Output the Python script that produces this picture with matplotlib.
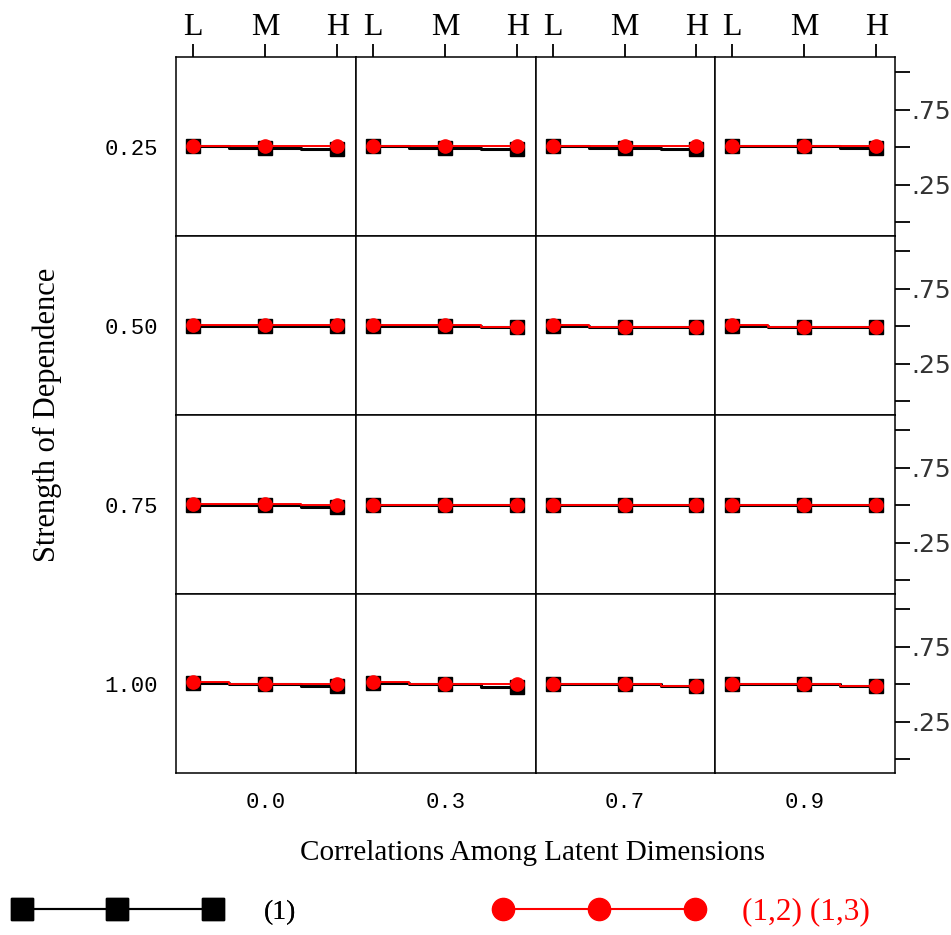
import numpy as np
import matplotlib
matplotlib.use('Agg')
import matplotlib.pyplot as plt
from matplotlib.lines import Line2D

# ----------------------------------------------------------------------------
# data
# ----------------------------------------------------------------------------
levels = ['L', 'M', 'H']
corr_labels = ['0.0', '0.3', '0.7', '0.9']
dep_labels = ['0.25', '0.50', '0.75', '1.00']
right_tick_labels = ['', '.25', '', '.75', '']
right_ticks = [0.0, 0.25, 0.5, 0.75, 1.0]

# model (1): one list per strength-of-dependence row, one [L, M, H] per correlation
m1_dep025 = [[0.505, 0.493, 0.488], [0.505, 0.493, 0.488],
             [0.505, 0.493, 0.488], [0.505, 0.505, 0.493]]
m1_dep050 = [[0.498, 0.498, 0.498], [0.502, 0.502, 0.495],
             [0.500, 0.495, 0.495], [0.500, 0.495, 0.495]]
m1_dep075 = [[0.500, 0.500, 0.485], [0.500, 0.500, 0.500],
             [0.500, 0.500, 0.500], [0.500, 0.500, 0.500]]
m1_dep100 = [[0.505, 0.500, 0.490], [0.505, 0.500, 0.482],
             [0.500, 0.500, 0.490], [0.500, 0.500, 0.490]]

# model (1,2) (1,3)
m2_dep025 = [[0.505, 0.505, 0.505], [0.505, 0.505, 0.505],
             [0.505, 0.505, 0.505], [0.505, 0.505, 0.505]]
m2_dep050 = [[0.505, 0.505, 0.505], [0.505, 0.505, 0.493],
             [0.505, 0.493, 0.493], [0.505, 0.493, 0.493]]
m2_dep075 = [[0.510, 0.510, 0.497], [0.500, 0.500, 0.500],
             [0.500, 0.500, 0.500], [0.500, 0.500, 0.500]]
m2_dep100 = [[0.512, 0.500, 0.500], [0.512, 0.500, 0.500],
             [0.500, 0.500, 0.490], [0.500, 0.500, 0.490]]

model1 = [m1_dep025, m1_dep050, m1_dep075, m1_dep100]
model2 = [m2_dep025, m2_dep050, m2_dep075, m2_dep100]

# ----------------------------------------------------------------------------
# styling
# ----------------------------------------------------------------------------
W, H = 951, 935
serif = 'Liberation Serif'
mono = 'Liberation Mono'
sans = 'DejaVu Sans'
black_col = '#000000'
red_col = '#ff0000'

fig = plt.figure(figsize=(W / 100, H / 100), dpi=100)

xs = [176, 356, 536, 715, 895]
ys = [57, 236, 415, 594, 773]

x = np.arange(len(levels))

for i in range(4):
    for j in range(4):
        ax = fig.add_axes([xs[j] / W, 1 - ys[i + 1] / H,
                           (xs[j + 1] - xs[j]) / W, (ys[i + 1] - ys[i]) / H])
        ax.plot(x, model1[i][j], color=black_col, lw=2.2, drawstyle='steps-mid',
                marker='s', ms=10.5, mec=black_col, mfc=black_col, zorder=2)
        ax.plot(x, model2[i][j], color=red_col, lw=1.4, drawstyle='steps-mid',
                marker='o', ms=9.5, mec=red_col, mfc=red_col, zorder=3)
        ax.set_xlim(-0.24, 2.26)
        ax.set_ylim(-0.093, 1.1)
        for sp in ax.spines.values():
            sp.set_linewidth(1.1)
        ax.set_xticks([])
        ax.set_yticks([])

        if i == 0:
            ax.xaxis.tick_top()
            ax.set_xticks(x)
            ax.set_xticklabels(levels, fontfamily=serif, fontsize=23)
            ax.tick_params(axis='x', which='major', top=True, bottom=False,
                           direction='out', length=9.5, width=1.3, pad=1)
        if i == 3:
            ax.set_xticks([1])
            ax.set_xticklabels([corr_labels[j]], fontfamily=mono, fontsize=16)
            ax.tick_params(axis='x', bottom=True, length=0, pad=14)
        if j == 0:
            ax.set_yticks([0.5])
            ax.set_yticklabels([dep_labels[i]], fontfamily=mono, fontsize=16)
            ax.tick_params(axis='y', left=True, length=0, pad=13)
        if j == 3:
            ax.yaxis.tick_right()
            ax.set_yticks(right_ticks)
            ax.set_yticklabels(right_tick_labels, fontfamily=sans, fontsize=18,
                               color='#333333')
            ax.tick_params(axis='y', right=True, left=False, direction='out',
                           length=11, width=1.3, pad=0.5)

fig.text(533 / W, 1 - 853 / H, 'Correlations Among Latent Dimensions',
         fontfamily=serif, fontsize=21, ha='center', va='center')
fig.text(47 / W, 1 - 415 / H, 'Strength of Dependence', fontfamily=serif,
         fontsize=22, rotation=90, ha='center', va='center')

# legend
h1 = Line2D([], [], color=black_col, lw=1.5, marker='s', ms=16,
            mfc=black_col, mec=black_col)
h2 = Line2D([], [], color=red_col, lw=1.5, marker='o', ms=16,
            mfc=red_col, mec=red_col)
leg1 = fig.legend([h1], ['(1)'], loc='center left',
                  bbox_to_anchor=(14 / W, 1 - 912 / H), frameon=False,
                  numpoints=3, handlelength=7.45, handletextpad=1.55,
                  borderpad=0, borderaxespad=0,
                  prop={'family': serif, 'size': 20})
leg2 = fig.legend([h2], ['(1,2) (1,3)'], loc='center left',
                  bbox_to_anchor=(494 / W, 1 - 912 / H), frameon=False,
                  numpoints=3, handlelength=6.74, handletextpad=1.19,
                  borderpad=0, borderaxespad=0,
                  prop={'family': serif, 'size': 22.5})
for t in leg2.get_texts():
    t.set_color(red_col)
fig.add_artist(leg1)

fig.savefig('out.png', dpi=100)
